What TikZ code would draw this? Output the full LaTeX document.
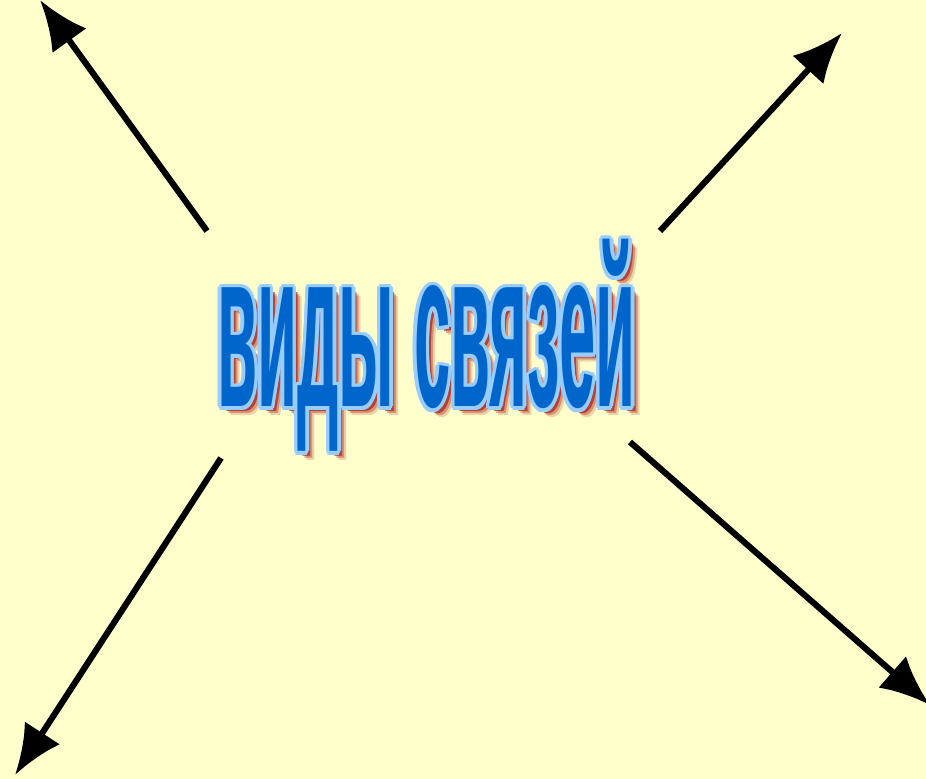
\documentclass[tikz,border=0pt]{standalone}
\usepackage{fontspec}
\usepackage{graphicx}
\usepackage{tikz}
\usetikzlibrary{arrows.meta}
\setmainfont{Liberation Sans}
\definecolor{paperYellow}{RGB}{255, 255, 204}
\definecolor{wordBlue}{RGB}{0, 102, 204}
\definecolor{rimBlue}{RGB}{153, 204, 255}
\definecolor{shadowRed}{RGB}{170, 30, 20}
\newcommand{\vidytext}{\scalebox{0.29}[1]{\fontsize{64}{64}\selectfont\bfseries виды\hspace{0.3em}связей}}

\begin{document}
\begin{tikzpicture}[
    word/.style={inner sep=0pt, anchor=base},
    ray/.style={line width=1.75pt, -{Latex[length=5mm,width=4.2mm]}}
  ]
      \fill[paperYellow] (0,0) rectangle (9.26,7.79);
      \useasboundingbox (0,0) rectangle (9.26,7.79);

      % Shadow of the title
      \foreach \s/\o in {0.09/0.2,0.07/0.35,0.05/0.7}
        \node[word, shadowRed, opacity=\o] (shade\s) at (4.265+\s,3.72-\s) {\vidytext};

      % Light rim round the letters
      \foreach \a in {0,30,...,330}
        \node[word, rimBlue] (rim\a) at ([shift={(\a:0.035)}]4.265,3.72) {\vidytext};

      % Title
      \node[word, wordBlue] (title) at (4.265,3.72) {\vidytext};

      % Ends of the four arrows
      \coordinate (nwFrom) at (2.07,5.48);
      \coordinate (nwTo) at (0.40,7.79);
      \coordinate (neFrom) at (6.60,5.48);
      \coordinate (neTo) at (8.42,7.46);
      \coordinate (swFrom) at (2.21,3.21);
      \coordinate (swTo) at (0.15,0.04);
      \coordinate (seFrom) at (6.30,3.37);
      \coordinate (seTo) at (9.30,0.74);

      \draw[ray] (nwFrom) -- (nwTo);
      \draw[ray] (neFrom) -- (neTo);
      \draw[ray] (swFrom) -- (swTo);
      \draw[ray] (seFrom) -- (seTo);
\end{tikzpicture}
\end{document}
